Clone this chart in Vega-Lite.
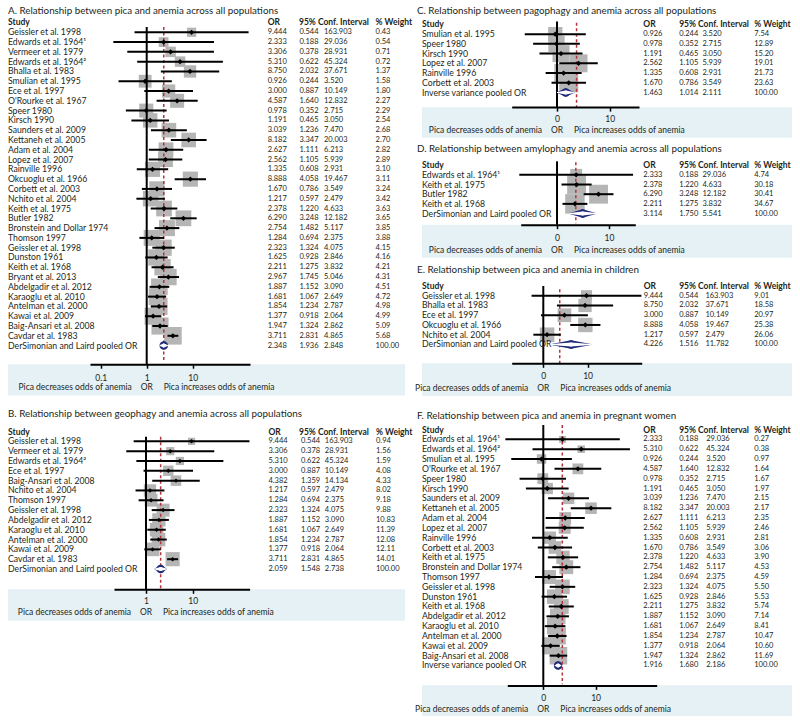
{
"$schema": "https://vega.github.io/schema/vega-lite/v6.json",
"padding": {"left": 8, "top": 3, "right": 0, "bottom": 0},
"config": {"view": {"stroke": null}},
"datasets": {
"A": [
{"i":1,"Study":"Geissler et al. 1998","OR":9.444,"lo":0.544,"hi":163.903,"w":0.43},
{"i":2,"Study":"Edwards et al. 1964¹","OR":2.333,"lo":0.188,"hi":29.036,"w":0.54},
{"i":3,"Study":"Vermeer et al. 1979","OR":3.306,"lo":0.378,"hi":28.931,"w":0.71},
{"i":4,"Study":"Edwards et al. 1964²","OR":5.310,"lo":0.622,"hi":45.324,"w":0.72},
{"i":5,"Study":"Bhalla et al. 1983","OR":8.750,"lo":2.032,"hi":37.671,"w":1.37},
{"i":6,"Study":"Smulian et al. 1995","OR":0.926,"lo":0.244,"hi":3.520,"w":1.58},
{"i":7,"Study":"Ece et al. 1997","OR":3.000,"lo":0.887,"hi":10.149,"w":1.80},
{"i":8,"Study":"O'Rourke et al. 1967","OR":4.587,"lo":1.640,"hi":12.832,"w":2.27},
{"i":9,"Study":"Speer 1980","OR":0.978,"lo":0.352,"hi":2.715,"w":2.29},
{"i":10,"Study":"Kirsch 1990","OR":1.191,"lo":0.465,"hi":3.050,"w":2.54},
{"i":11,"Study":"Saunders et al. 2009","OR":3.039,"lo":1.236,"hi":7.470,"w":2.68},
{"i":12,"Study":"Kettaneh et al. 2005","OR":8.182,"lo":3.347,"hi":20.003,"w":2.70},
{"i":13,"Study":"Adam et al. 2004","OR":2.627,"lo":1.111,"hi":6.213,"w":2.82},
{"i":14,"Study":"Lopez et al. 2007","OR":2.562,"lo":1.105,"hi":5.939,"w":2.89},
{"i":15,"Study":"Rainville 1996","OR":1.335,"lo":0.608,"hi":2.931,"w":3.10},
{"i":16,"Study":"Okcuoglu et al. 1966","OR":8.888,"lo":4.058,"hi":19.467,"w":3.11},
{"i":17,"Study":"Corbett et al. 2003","OR":1.670,"lo":0.786,"hi":3.549,"w":3.24},
{"i":18,"Study":"Nchito et al. 2004","OR":1.217,"lo":0.597,"hi":2.479,"w":3.42},
{"i":19,"Study":"Keith et al. 1975","OR":2.378,"lo":1.220,"hi":4.633,"w":3.63},
{"i":20,"Study":"Butler 1982","OR":6.290,"lo":3.248,"hi":12.182,"w":3.65},
{"i":21,"Study":"Bronstein and Dollar 1974","OR":2.754,"lo":1.482,"hi":5.117,"w":3.85},
{"i":22,"Study":"Thomson 1997","OR":1.284,"lo":0.694,"hi":2.375,"w":3.88},
{"i":23,"Study":"Geissler et al. 1998","OR":2.323,"lo":1.324,"hi":4.075,"w":4.15},
{"i":24,"Study":"Dunston 1961","OR":1.625,"lo":0.928,"hi":2.846,"w":4.16},
{"i":25,"Study":"Keith et al. 1968","OR":2.211,"lo":1.275,"hi":3.832,"w":4.21},
{"i":26,"Study":"Bryant et al. 2013","OR":2.967,"lo":1.745,"hi":5.046,"w":4.31},
{"i":27,"Study":"Abdelgadir et al. 2012","OR":1.887,"lo":1.152,"hi":3.090,"w":4.51},
{"i":28,"Study":"Karaoglu et al. 2010","OR":1.681,"lo":1.067,"hi":2.649,"w":4.72},
{"i":29,"Study":"Antelman et al. 2000","OR":1.854,"lo":1.234,"hi":2.787,"w":4.98},
{"i":30,"Study":"Kawai et al. 2009","OR":1.377,"lo":0.918,"hi":2.064,"w":4.99},
{"i":31,"Study":"Baig-Ansari et al. 2008","OR":1.947,"lo":1.324,"hi":2.862,"w":5.09},
{"i":32,"Study":"Cavdar et al. 1983","OR":3.711,"lo":2.831,"hi":4.865,"w":5.68},
{"i":33,"Study":"DerSimonian and Laird pooled OR","OR":2.348,"lo":1.936,"hi":2.848,"w":100.00}
],
"B": [
{"i":1,"Study":"Geissler et al. 1998","OR":9.444,"lo":0.544,"hi":163.903,"w":0.94},
{"i":2,"Study":"Vermeer et al. 1979","OR":3.306,"lo":0.378,"hi":28.931,"w":1.56},
{"i":3,"Study":"Edwards et al. 1964²","OR":5.310,"lo":0.622,"hi":45.324,"w":1.59},
{"i":4,"Study":"Ece et al. 1997","OR":3.000,"lo":0.887,"hi":10.149,"w":4.08},
{"i":5,"Study":"Baig-Ansari et al. 2008","OR":4.382,"lo":1.359,"hi":14.134,"w":4.33},
{"i":6,"Study":"Nchito et al. 2004","OR":1.217,"lo":0.597,"hi":2.479,"w":8.02},
{"i":7,"Study":"Thomson 1997","OR":1.284,"lo":0.694,"hi":2.375,"w":9.18},
{"i":8,"Study":"Geissler et al. 1998","OR":2.323,"lo":1.324,"hi":4.075,"w":9.88},
{"i":9,"Study":"Abdelgadir et al. 2012","OR":1.887,"lo":1.152,"hi":3.090,"w":10.83},
{"i":10,"Study":"Karaoglu et al. 2010","OR":1.681,"lo":1.067,"hi":2.649,"w":11.39},
{"i":11,"Study":"Antelman et al. 2000","OR":1.854,"lo":1.234,"hi":2.787,"w":12.08},
{"i":12,"Study":"Kawai et al. 2009","OR":1.377,"lo":0.918,"hi":2.064,"w":12.11},
{"i":13,"Study":"Cavdar et al. 1983","OR":3.711,"lo":2.831,"hi":4.865,"w":14.01},
{"i":14,"Study":"DerSimonian and Laird pooled OR","OR":2.059,"lo":1.548,"hi":2.738,"w":100.00}
],
"C": [
{"i":1,"Study":"Smulian et al. 1995","OR":0.926,"lo":0.244,"hi":3.520,"w":7.54},
{"i":2,"Study":"Speer 1980","OR":0.978,"lo":0.352,"hi":2.715,"w":12.89},
{"i":3,"Study":"Kirsch 1990","OR":1.191,"lo":0.465,"hi":3.050,"w":15.20},
{"i":4,"Study":"Lopez et al. 2007","OR":2.562,"lo":1.105,"hi":5.939,"w":19.01},
{"i":5,"Study":"Rainville 1996","OR":1.335,"lo":0.608,"hi":2.931,"w":21.73},
{"i":6,"Study":"Corbett et al. 2003","OR":1.670,"lo":0.786,"hi":3.549,"w":23.63},
{"i":7,"Study":"Inverse variance pooled OR","OR":1.463,"lo":1.014,"hi":2.111,"w":100.00}
],
"D": [
{"i":1,"Study":"Edwards et al. 1964¹","OR":2.333,"lo":0.188,"hi":29.036,"w":4.74},
{"i":2,"Study":"Keith et al. 1975","OR":2.378,"lo":1.220,"hi":4.633,"w":30.18},
{"i":3,"Study":"Butler 1982","OR":6.290,"lo":3.248,"hi":12.182,"w":30.41},
{"i":4,"Study":"Keith et al. 1968","OR":2.211,"lo":1.275,"hi":3.832,"w":34.67},
{"i":5,"Study":"DerSimonian and Laird pooled OR","OR":3.114,"lo":1.750,"hi":5.541,"w":100.00}
],
"E": [
{"i":1,"Study":"Geissler et al. 1998","OR":9.444,"lo":0.544,"hi":163.903,"w":9.01},
{"i":2,"Study":"Bhalla et al. 1983","OR":8.750,"lo":2.032,"hi":37.671,"w":18.58},
{"i":3,"Study":"Ece et al. 1997","OR":3.000,"lo":0.887,"hi":10.149,"w":20.97},
{"i":4,"Study":"Okcuoglu et al. 1966","OR":8.888,"lo":4.058,"hi":19.467,"w":25.38},
{"i":5,"Study":"Nchito et al. 2004","OR":1.217,"lo":0.597,"hi":2.479,"w":26.06},
{"i":6,"Study":"DerSimonian and Laird pooled OR","OR":4.226,"lo":1.516,"hi":11.782,"w":100.00}
],
"F": [
{"i":1,"Study":"Edwards et al. 1964¹","OR":2.333,"lo":0.188,"hi":29.036,"w":0.27},
{"i":2,"Study":"Edwards et al. 1964²","OR":5.310,"lo":0.622,"hi":45.324,"w":0.38},
{"i":3,"Study":"Smulian et al. 1995","OR":0.926,"lo":0.244,"hi":3.520,"w":0.97},
{"i":4,"Study":"O'Rourke et al. 1967","OR":4.587,"lo":1.640,"hi":12.832,"w":1.64},
{"i":5,"Study":"Speer 1980","OR":0.978,"lo":0.352,"hi":2.715,"w":1.67},
{"i":6,"Study":"Kirsch 1990","OR":1.191,"lo":0.465,"hi":3.050,"w":1.97},
{"i":7,"Study":"Saunders et al. 2009","OR":3.039,"lo":1.236,"hi":7.470,"w":2.15},
{"i":8,"Study":"Kettaneh et al. 2005","OR":8.182,"lo":3.347,"hi":20.003,"w":2.17},
{"i":9,"Study":"Adam et al. 2004","OR":2.627,"lo":1.111,"hi":6.213,"w":2.35},
{"i":10,"Study":"Lopez et al. 2007","OR":2.562,"lo":1.105,"hi":5.939,"w":2.46},
{"i":11,"Study":"Rainville 1996","OR":1.335,"lo":0.608,"hi":2.931,"w":2.81},
{"i":12,"Study":"Corbett et al. 2003","OR":1.670,"lo":0.786,"hi":3.549,"w":3.06},
{"i":13,"Study":"Keith et al. 1975","OR":2.378,"lo":1.220,"hi":4.633,"w":3.90},
{"i":14,"Study":"Bronstein and Dollar 1974","OR":2.754,"lo":1.482,"hi":5.117,"w":4.53},
{"i":15,"Study":"Thomson 1997","OR":1.284,"lo":0.694,"hi":2.375,"w":4.59},
{"i":16,"Study":"Geissler et al. 1998","OR":2.323,"lo":1.324,"hi":4.075,"w":5.50},
{"i":17,"Study":"Dunston 1961","OR":1.625,"lo":0.928,"hi":2.846,"w":5.53},
{"i":18,"Study":"Keith et al. 1968","OR":2.211,"lo":1.275,"hi":3.832,"w":5.74},
{"i":19,"Study":"Abdelgadir et al. 2012","OR":1.887,"lo":1.152,"hi":3.090,"w":7.14},
{"i":20,"Study":"Karaoglu et al. 2010","OR":1.681,"lo":1.067,"hi":2.649,"w":8.41},
{"i":21,"Study":"Antelman et al. 2000","OR":1.854,"lo":1.234,"hi":2.787,"w":10.47},
{"i":22,"Study":"Kawai et al. 2009","OR":1.377,"lo":0.918,"hi":2.064,"w":10.60},
{"i":23,"Study":"Baig-Ansari et al. 2008","OR":1.947,"lo":1.324,"hi":2.862,"w":11.69},
{"i":24,"Study":"Inverse variance pooled OR","OR":1.916,"lo":1.680,"hi":2.186,"w":100.00}
]
},
"hconcat": [
{
"width": 397, "height": 720,
"resolve": {"scale": {"x": "independent", "y": "independent", "size": "independent"}, "axis": {"x": "independent", "y": "independent"}},
"layer": [
{
"data": {"name": "A"},
"resolve": {"scale": {"x": "independent"}, "axis": {"x": "independent"}},
"layer": [
{"resolve": {"scale": {"size": "independent"}},
"layer": [
{"data": {"values": [{}]}, "mark": {"type": "rect", "color": "#e5f1f4"}, "encoding": {"y": {"datum": 34.9, "type": "quantitative", "scale": {"domain": [-1.99, 39.17], "range": [0, 403], "nice": false, "zero": false}, "axis": null}, "y2": {"datum": 38.1}}},
{"transform": [{"filter": "datum.w < 100"}], "mark": {"type": "point", "shape": "square", "filled": true, "color": "#b5b5b5", "opacity": 1}, "encoding": {"x": {"field": "OR", "type": "quantitative", "scale": {"type": "log", "domain": [0.0585, 176], "range": [82, 242], "nice": false}, "axis": {"orient": "bottom", "offset": -358.8, "values": [0.1, 1, 10], "format": "~g", "title": null, "domainColor": "#000", "domainWidth": 2, "tickColor": "#000", "tickWidth": 1.5, "tickSize": 4, "labelFontSize": 8.5, "labelFont": "Lato", "labelColor": "#231f20", "labelPadding": 5, "grid": false, "zindex": 1}}, "y": {"field": "i", "type": "quantitative", "axis": null}, "size": {"field": "w", "type": "quantitative", "scale": {"type": "sqrt", "domain": [0, 5.68], "range": [0, 310]}, "legend": null}}},
{"data": {"values": [{}]}, "mark": {"type": "rule", "color": "#000", "strokeWidth": 2}, "encoding": {"x": {"datum": 1, "type": "quantitative"}, "y": {"datum": 0.45, "type": "quantitative", "axis": null}, "y2": {"datum": 34.9}}},
{"data": {"values": [{}]}, "mark": {"type": "rule", "color": "#b5343c", "strokeWidth": 1.5, "strokeDash": [3, 2.5]}, "encoding": {"x": {"datum": 2.348, "type": "quantitative"}, "y": {"datum": 0.45, "type": "quantitative", "axis": null}, "y2": {"datum": 34.5}}},
{"transform": [{"filter": "datum.w < 100"}], "mark": {"type": "rule", "color": "#000", "strokeWidth": 2}, "encoding": {"x": {"field": "lo", "type": "quantitative"}, "x2": {"field": "hi"}, "y": {"field": "i", "type": "quantitative", "axis": null}}},
{"transform": [{"filter": "datum.w < 100"}], "mark": {"type": "point", "shape": "diamond", "filled": true, "color": "#000", "size": 28, "opacity": 1}, "encoding": {"x": {"field": "OR", "type": "quantitative"}, "y": {"field": "i", "type": "quantitative", "axis": null}}},
{"transform": [{"filter": "datum.w >= 100"}, {"fold": ["lo", "OR"], "as": ["k", "v"]}], "mark": {"type": "trail", "color": "#1f2a7a"}, "encoding": {"x": {"field": "v", "type": "quantitative"}, "y": {"field": "i", "type": "quantitative", "axis": null}, "size": {"field": "k", "type": "ordinal", "scale": {"type": "point", "domain": ["lo", "OR"], "range": [0, 8.5], "padding": 0}, "legend": null}}},
{"transform": [{"filter": "datum.w >= 100"}, {"fold": ["OR", "hi"], "as": ["k", "v"]}], "mark": {"type": "trail", "color": "#1f2a7a"}, "encoding": {"x": {"field": "v", "type": "quantitative"}, "y": {"field": "i", "type": "quantitative", "axis": null}, "size": {"field": "k", "type": "ordinal", "scale": {"type": "point", "domain": ["hi", "OR"], "range": [0, 8.5], "padding": 0}, "legend": null}}},
{"transform": [{"filter": "datum.w >= 100"}, {"fold": ["lo", "OR"], "as": ["k", "v"]}], "mark": {"type": "trail", "color": "#ffffff"}, "encoding": {"x": {"field": "v", "type": "quantitative"}, "y": {"field": "i", "type": "quantitative", "axis": null}, "size": {"field": "k", "type": "ordinal", "scale": {"type": "point", "domain": ["lo", "OR"], "range": [0, 4], "padding": 0}, "legend": null}}},
{"transform": [{"filter": "datum.w >= 100"}, {"fold": ["OR", "hi"], "as": ["k", "v"]}], "mark": {"type": "trail", "color": "#ffffff"}, "encoding": {"x": {"field": "v", "type": "quantitative"}, "y": {"field": "i", "type": "quantitative", "axis": null}, "size": {"field": "k", "type": "ordinal", "scale": {"type": "point", "domain": ["hi", "OR"], "range": [0, 4], "padding": 0}, "legend": null}}},
{"data": {"values": [{}]}, "mark": {"type": "text", "align": "center", "baseline": "middle", "fontSize": 8.5, "font": "Lato", "color": "#231f20"}, "encoding": {"x": {"datum": 1, "type": "quantitative"}, "y": {"datum": 37.2, "type": "quantitative", "axis": null}, "text": {"value": "OR"}}},
{"data": {"values": [{}]}, "mark": {"type": "text", "align": "right", "baseline": "middle", "dx": -15, "fontSize": 8.5, "font": "Lato", "color": "#231f20"}, "encoding": {"x": {"datum": 1, "type": "quantitative"}, "y": {"datum": 37.2, "type": "quantitative", "axis": null}, "text": {"value": "Pica decreases odds of anemia"}}},
{"data": {"values": [{}]}, "mark": {"type": "text", "align": "left", "baseline": "middle", "dx": 17, "fontSize": 8.5, "font": "Lato", "color": "#231f20"}, "encoding": {"x": {"datum": 1, "type": "quantitative"}, "y": {"datum": 37.2, "type": "quantitative", "axis": null}, "text": {"value": "Pica increases odds of anemia"}}}
]},
{"layer": [
{"mark": {"type": "text", "align": "left", "baseline": "middle", "fontSize": 8.7, "font": "Lato", "color": "#231f20"}, "encoding": {"x": {"datum": 0, "type": "quantitative", "scale": {"domain": [0, 100], "nice": false}, "axis": null}, "y": {"field": "i", "type": "quantitative", "axis": null}, "text": {"field": "Study", "type": "nominal"}}},
{"mark": {"type": "text", "align": "left", "baseline": "middle", "fontSize": 7.5, "font": "Lato", "color": "#231f20"}, "encoding": {"x": {"datum": 65.4, "type": "quantitative"}, "y": {"field": "i", "type": "quantitative", "axis": null}, "text": {"field": "OR", "type": "quantitative", "format": ".3f"}}},
{"mark": {"type": "text", "align": "left", "baseline": "middle", "fontSize": 7.5, "font": "Lato", "color": "#231f20"}, "encoding": {"x": {"datum": 73.4, "type": "quantitative"}, "y": {"field": "i", "type": "quantitative", "axis": null}, "text": {"field": "lo", "type": "quantitative", "format": ".3f"}}},
{"mark": {"type": "text", "align": "left", "baseline": "middle", "fontSize": 7.5, "font": "Lato", "color": "#231f20"}, "encoding": {"x": {"datum": 79.6, "type": "quantitative"}, "y": {"field": "i", "type": "quantitative", "axis": null}, "text": {"field": "hi", "type": "quantitative", "format": ".3f"}}},
{"mark": {"type": "text", "align": "left", "baseline": "middle", "fontSize": 7.5, "font": "Lato", "color": "#231f20"}, "encoding": {"x": {"datum": 92.6, "type": "quantitative"}, "y": {"field": "i", "type": "quantitative", "axis": null}, "text": {"field": "w", "type": "quantitative", "format": ".2f"}}},
{"data": {"values": [{}]}, "mark": {"type": "text", "align": "left", "baseline": "middle", "fontSize": 8.5, "fontWeight": "bold", "font": "Lato", "color": "#231f20"}, "encoding": {"x": {"datum": 0, "type": "quantitative"}, "y": {"datum": 0, "type": "quantitative", "axis": null}, "text": {"value": "Study"}}},
{"data": {"values": [{}]}, "mark": {"type": "text", "align": "left", "baseline": "middle", "fontSize": 8.5, "fontWeight": "bold", "font": "Lato", "color": "#231f20"}, "encoding": {"x": {"datum": 65.4, "type": "quantitative"}, "y": {"datum": 0, "type": "quantitative", "axis": null}, "text": {"value": "OR"}}},
{"data": {"values": [{}]}, "mark": {"type": "text", "align": "left", "baseline": "middle", "fontSize": 8.5, "fontWeight": "bold", "font": "Lato", "color": "#231f20"}, "encoding": {"x": {"datum": 73.3, "type": "quantitative"}, "y": {"datum": 0, "type": "quantitative", "axis": null}, "text": {"value": "95% Conf. Interval"}}},
{"data": {"values": [{}]}, "mark": {"type": "text", "align": "left", "baseline": "middle", "fontSize": 8.5, "fontWeight": "bold", "font": "Lato", "color": "#231f20"}, "encoding": {"x": {"datum": 92.6, "type": "quantitative"}, "y": {"datum": 0, "type": "quantitative", "axis": null}, "text": {"value": "% Weight"}}},
{"data": {"values": [{}]}, "mark": {"type": "text", "align": "left", "baseline": "middle", "fontSize": 9.8, "font": "Lato", "color": "#231f20"}, "encoding": {"x": {"datum": 0, "type": "quantitative"}, "y": {"datum": -1.17, "type": "quantitative", "axis": null}, "text": {"value": "A. Relationship between pica and anemia across all populations"}}}
]}
]
},
{
"data": {"name": "B"},
"resolve": {"scale": {"x": "independent"}, "axis": {"x": "independent"}},
"layer": [
{"resolve": {"scale": {"size": "independent"}},
"layer": [
{"data": {"values": [{}]}, "mark": {"type": "rect", "color": "#e5f1f4"}, "encoding": {"y": {"datum": 16.07, "type": "quantitative", "scale": {"domain": [-2.6, 29.68], "range": [403, 720], "nice": false, "zero": false}, "axis": null}, "y2": {"datum": 19.27}}},
{"transform": [{"filter": "datum.w < 100"}], "mark": {"type": "point", "shape": "square", "filled": true, "color": "#b5b5b5", "opacity": 1}, "encoding": {"x": {"field": "OR", "type": "quantitative", "scale": {"type": "log", "domain": [0.2065, 165], "range": [106, 241.6], "nice": false}, "axis": {"orient": "bottom", "offset": -133.7, "values": [1, 10], "format": "~g", "title": null, "domainColor": "#000", "domainWidth": 2, "tickColor": "#000", "tickWidth": 1.5, "tickSize": 4, "labelFontSize": 8.5, "labelFont": "Lato", "labelColor": "#231f20", "labelPadding": 3, "grid": false, "zindex": 1}}, "y": {"field": "i", "type": "quantitative", "axis": null}, "size": {"field": "w", "type": "quantitative", "scale": {"type": "sqrt", "domain": [0, 14.01], "range": [0, 200]}, "legend": null}}},
{"data": {"values": [{}]}, "mark": {"type": "rule", "color": "#000", "strokeWidth": 2}, "encoding": {"x": {"datum": 1, "type": "quantitative"}, "y": {"datum": 0.53, "type": "quantitative", "axis": null}, "y2": {"datum": 16.07}}},
{"data": {"values": [{}]}, "mark": {"type": "rule", "color": "#b5343c", "strokeWidth": 1.5, "strokeDash": [3, 2.5]}, "encoding": {"x": {"datum": 2.059, "type": "quantitative"}, "y": {"datum": 0.53, "type": "quantitative", "axis": null}, "y2": {"datum": 16.0}}},
{"transform": [{"filter": "datum.w < 100"}], "mark": {"type": "rule", "color": "#000", "strokeWidth": 2}, "encoding": {"x": {"field": "lo", "type": "quantitative"}, "x2": {"field": "hi"}, "y": {"field": "i", "type": "quantitative", "axis": null}}},
{"transform": [{"filter": "datum.w < 100"}], "mark": {"type": "point", "shape": "diamond", "filled": true, "color": "#000", "size": 20, "opacity": 1}, "encoding": {"x": {"field": "OR", "type": "quantitative"}, "y": {"field": "i", "type": "quantitative", "axis": null}}},
{"transform": [{"filter": "datum.w >= 100"}, {"fold": ["lo", "OR"], "as": ["k", "v"]}], "mark": {"type": "trail", "color": "#1f2a7a"}, "encoding": {"x": {"field": "v", "type": "quantitative"}, "y": {"field": "i", "type": "quantitative", "axis": null}, "size": {"field": "k", "type": "ordinal", "scale": {"type": "point", "domain": ["lo", "OR"], "range": [0, 8.5], "padding": 0}, "legend": null}}},
{"transform": [{"filter": "datum.w >= 100"}, {"fold": ["OR", "hi"], "as": ["k", "v"]}], "mark": {"type": "trail", "color": "#1f2a7a"}, "encoding": {"x": {"field": "v", "type": "quantitative"}, "y": {"field": "i", "type": "quantitative", "axis": null}, "size": {"field": "k", "type": "ordinal", "scale": {"type": "point", "domain": ["hi", "OR"], "range": [0, 8.5], "padding": 0}, "legend": null}}},
{"transform": [{"filter": "datum.w >= 100"}, {"fold": ["lo", "OR"], "as": ["k", "v"]}], "mark": {"type": "trail", "color": "#ffffff"}, "encoding": {"x": {"field": "v", "type": "quantitative"}, "y": {"field": "i", "type": "quantitative", "axis": null}, "size": {"field": "k", "type": "ordinal", "scale": {"type": "point", "domain": ["lo", "OR"], "range": [0, 4], "padding": 0}, "legend": null}}},
{"transform": [{"filter": "datum.w >= 100"}, {"fold": ["OR", "hi"], "as": ["k", "v"]}], "mark": {"type": "trail", "color": "#ffffff"}, "encoding": {"x": {"field": "v", "type": "quantitative"}, "y": {"field": "i", "type": "quantitative", "axis": null}, "size": {"field": "k", "type": "ordinal", "scale": {"type": "point", "domain": ["hi", "OR"], "range": [0, 4], "padding": 0}, "legend": null}}},
{"data": {"values": [{}]}, "mark": {"type": "text", "align": "center", "baseline": "middle", "fontSize": 8.5, "font": "Lato", "color": "#231f20"}, "encoding": {"x": {"datum": 1, "type": "quantitative"}, "y": {"datum": 18.35, "type": "quantitative", "axis": null}, "text": {"value": "OR"}}},
{"data": {"values": [{}]}, "mark": {"type": "text", "align": "right", "baseline": "middle", "dx": -15, "fontSize": 8.5, "font": "Lato", "color": "#231f20"}, "encoding": {"x": {"datum": 1, "type": "quantitative"}, "y": {"datum": 18.35, "type": "quantitative", "axis": null}, "text": {"value": "Pica decreases odds of anemia"}}},
{"data": {"values": [{}]}, "mark": {"type": "text", "align": "left", "baseline": "middle", "dx": 17, "fontSize": 8.5, "font": "Lato", "color": "#231f20"}, "encoding": {"x": {"datum": 1, "type": "quantitative"}, "y": {"datum": 18.35, "type": "quantitative", "axis": null}, "text": {"value": "Pica increases odds of anemia"}}}
]},
{"layer": [
{"mark": {"type": "text", "align": "left", "baseline": "middle", "fontSize": 8.7, "font": "Lato", "color": "#231f20"}, "encoding": {"x": {"datum": 0, "type": "quantitative", "scale": {"domain": [0, 100], "nice": false}, "axis": null}, "y": {"field": "i", "type": "quantitative", "axis": null}, "text": {"field": "Study", "type": "nominal"}}},
{"mark": {"type": "text", "align": "left", "baseline": "middle", "fontSize": 7.5, "font": "Lato", "color": "#231f20"}, "encoding": {"x": {"datum": 65.6, "type": "quantitative"}, "y": {"field": "i", "type": "quantitative", "axis": null}, "text": {"field": "OR", "type": "quantitative", "format": ".3f"}}},
{"mark": {"type": "text", "align": "left", "baseline": "middle", "fontSize": 7.5, "font": "Lato", "color": "#231f20"}, "encoding": {"x": {"datum": 73.8, "type": "quantitative"}, "y": {"field": "i", "type": "quantitative", "axis": null}, "text": {"field": "lo", "type": "quantitative", "format": ".3f"}}},
{"mark": {"type": "text", "align": "left", "baseline": "middle", "fontSize": 7.5, "font": "Lato", "color": "#231f20"}, "encoding": {"x": {"datum": 79.8, "type": "quantitative"}, "y": {"field": "i", "type": "quantitative", "axis": null}, "text": {"field": "hi", "type": "quantitative", "format": ".3f"}}},
{"mark": {"type": "text", "align": "left", "baseline": "middle", "fontSize": 7.5, "font": "Lato", "color": "#231f20"}, "encoding": {"x": {"datum": 92.7, "type": "quantitative"}, "y": {"field": "i", "type": "quantitative", "axis": null}, "text": {"field": "w", "type": "quantitative", "format": ".2f"}}},
{"data": {"values": [{}]}, "mark": {"type": "text", "align": "left", "baseline": "middle", "fontSize": 8.5, "fontWeight": "bold", "font": "Lato", "color": "#231f20"}, "encoding": {"x": {"datum": 0, "type": "quantitative"}, "y": {"datum": 0, "type": "quantitative", "axis": null}, "text": {"value": "Study"}}},
{"data": {"values": [{}]}, "mark": {"type": "text", "align": "left", "baseline": "middle", "fontSize": 8.5, "fontWeight": "bold", "font": "Lato", "color": "#231f20"}, "encoding": {"x": {"datum": 65.6, "type": "quantitative"}, "y": {"datum": 0, "type": "quantitative", "axis": null}, "text": {"value": "OR"}}},
{"data": {"values": [{}]}, "mark": {"type": "text", "align": "left", "baseline": "middle", "fontSize": 8.5, "fontWeight": "bold", "font": "Lato", "color": "#231f20"}, "encoding": {"x": {"datum": 73.3, "type": "quantitative"}, "y": {"datum": 0, "type": "quantitative", "axis": null}, "text": {"value": "95% Conf. Interval"}}},
{"data": {"values": [{}]}, "mark": {"type": "text", "align": "left", "baseline": "middle", "fontSize": 8.5, "fontWeight": "bold", "font": "Lato", "color": "#231f20"}, "encoding": {"x": {"datum": 92.7, "type": "quantitative"}, "y": {"datum": 0, "type": "quantitative", "axis": null}, "text": {"value": "% Weight"}}},
{"data": {"values": [{}]}, "mark": {"type": "text", "align": "left", "baseline": "middle", "fontSize": 9.8, "font": "Lato", "color": "#231f20"}, "encoding": {"x": {"datum": 0, "type": "quantitative"}, "y": {"datum": -1.78, "type": "quantitative", "axis": null}, "text": {"value": "B. Relationship between geophagy and anemia across all populations"}}}
]}
]
}
]
},
{
"width": 370, "height": 720,
"resolve": {"scale": {"x": "independent", "y": "independent", "size": "independent"}, "axis": {"x": "independent", "y": "independent"}},
"layer": [
{
"data": {"name": "C"},
"resolve": {"scale": {"x": "independent"}, "axis": {"x": "independent"}},
"layer": [
{"resolve": {"scale": {"size": "independent"}},
"layer": [
{"data": {"values": [{}]}, "mark": {"type": "rect", "color": "#e5f1f4"}, "encoding": {"y": {"datum": 8.5, "type": "quantitative", "scale": {"domain": [-2.2, 11.98], "range": [0, 138], "nice": false, "zero": false}, "axis": null}, "y2": {"datum": 11.65}}},
{"transform": [{"filter": "datum.w < 100"}], "mark": {"type": "point", "shape": "square", "filled": true, "color": "#b5b5b5", "opacity": 1}, "encoding": {"x": {"field": "OR", "type": "quantitative", "scale": {"type": "log", "domain": [0.138, 36], "range": [89.7, 217], "nice": false}, "axis": {"orient": "bottom", "offset": -615.9, "values": [1, 10], "labelExpr": "datum.value < 5 ? '0' : '10'", "title": null, "domainColor": "#000", "domainWidth": 2, "tickColor": "#000", "tickWidth": 1.5, "tickSize": 4, "labelFontSize": 8.5, "labelFont": "Lato", "labelColor": "#231f20", "labelPadding": 3, "grid": false, "zindex": 1}}, "y": {"field": "i", "type": "quantitative", "axis": null}, "size": {"field": "w", "type": "quantitative", "scale": {"type": "sqrt", "domain": [0, 23.63], "range": [0, 360]}, "legend": null}}},
{"data": {"values": [{}]}, "mark": {"type": "rule", "color": "#000", "strokeWidth": 2}, "encoding": {"x": {"datum": 1, "type": "quantitative"}, "y": {"datum": -0.3, "type": "quantitative", "axis": null}, "y2": {"datum": 8.5}}},
{"data": {"values": [{}]}, "mark": {"type": "rule", "color": "#b5343c", "strokeWidth": 1.5, "strokeDash": [3, 2.5]}, "encoding": {"x": {"datum": 2.35, "type": "quantitative"}, "y": {"datum": -0.16, "type": "quantitative", "axis": null}, "y2": {"datum": 8.5}}},
{"transform": [{"filter": "datum.w < 100"}], "mark": {"type": "rule", "color": "#000", "strokeWidth": 2}, "encoding": {"x": {"field": "lo", "type": "quantitative"}, "x2": {"field": "hi"}, "y": {"field": "i", "type": "quantitative", "axis": null}}},
{"transform": [{"filter": "datum.w < 100"}], "mark": {"type": "point", "shape": "diamond", "filled": true, "color": "#000", "size": 28, "opacity": 1}, "encoding": {"x": {"field": "OR", "type": "quantitative"}, "y": {"field": "i", "type": "quantitative", "axis": null}}},
{"transform": [{"filter": "datum.w >= 100"}, {"fold": ["lo", "OR"], "as": ["k", "v"]}], "mark": {"type": "trail", "color": "#1f2a7a"}, "encoding": {"x": {"field": "v", "type": "quantitative"}, "y": {"field": "i", "type": "quantitative", "axis": null}, "size": {"field": "k", "type": "ordinal", "scale": {"type": "point", "domain": ["lo", "OR"], "range": [0, 8.5], "padding": 0}, "legend": null}}},
{"transform": [{"filter": "datum.w >= 100"}, {"fold": ["OR", "hi"], "as": ["k", "v"]}], "mark": {"type": "trail", "color": "#1f2a7a"}, "encoding": {"x": {"field": "v", "type": "quantitative"}, "y": {"field": "i", "type": "quantitative", "axis": null}, "size": {"field": "k", "type": "ordinal", "scale": {"type": "point", "domain": ["hi", "OR"], "range": [0, 8.5], "padding": 0}, "legend": null}}},
{"transform": [{"filter": "datum.w >= 100"}, {"fold": ["lo", "OR"], "as": ["k", "v"]}], "mark": {"type": "trail", "color": "#ffffff"}, "encoding": {"x": {"field": "v", "type": "quantitative"}, "y": {"field": "i", "type": "quantitative", "axis": null}, "size": {"field": "k", "type": "ordinal", "scale": {"type": "point", "domain": ["lo", "OR"], "range": [0, 4], "padding": 0}, "legend": null}}},
{"transform": [{"filter": "datum.w >= 100"}, {"fold": ["OR", "hi"], "as": ["k", "v"]}], "mark": {"type": "trail", "color": "#ffffff"}, "encoding": {"x": {"field": "v", "type": "quantitative"}, "y": {"field": "i", "type": "quantitative", "axis": null}, "size": {"field": "k", "type": "ordinal", "scale": {"type": "point", "domain": ["hi", "OR"], "range": [0, 4], "padding": 0}, "legend": null}}},
{"data": {"values": [{}]}, "mark": {"type": "text", "align": "center", "baseline": "middle", "fontSize": 8.5, "font": "Lato", "color": "#231f20"}, "encoding": {"x": {"datum": 1, "type": "quantitative"}, "y": {"datum": 10.9, "type": "quantitative", "axis": null}, "text": {"value": "OR"}}},
{"data": {"values": [{}]}, "mark": {"type": "text", "align": "right", "baseline": "middle", "dx": -15, "fontSize": 8.5, "font": "Lato", "color": "#231f20"}, "encoding": {"x": {"datum": 1, "type": "quantitative"}, "y": {"datum": 10.9, "type": "quantitative", "axis": null}, "text": {"value": "Pica decreases odds of anemia"}}},
{"data": {"values": [{}]}, "mark": {"type": "text", "align": "left", "baseline": "middle", "dx": 17, "fontSize": 8.5, "font": "Lato", "color": "#231f20"}, "encoding": {"x": {"datum": 1, "type": "quantitative"}, "y": {"datum": 10.9, "type": "quantitative", "axis": null}, "text": {"value": "Pica increases odds of anemia"}}}
]},
{"layer": [
{"mark": {"type": "text", "align": "left", "baseline": "middle", "fontSize": 8.7, "font": "Lato", "color": "#231f20"}, "encoding": {"x": {"datum": 0, "type": "quantitative", "scale": {"domain": [0, 100], "nice": false}, "axis": null}, "y": {"field": "i", "type": "quantitative", "axis": null}, "text": {"field": "Study", "type": "nominal"}}},
{"mark": {"type": "text", "align": "left", "baseline": "middle", "fontSize": 7.5, "font": "Lato", "color": "#231f20"}, "encoding": {"x": {"datum": 59.8, "type": "quantitative"}, "y": {"field": "i", "type": "quantitative", "axis": null}, "text": {"field": "OR", "type": "quantitative", "format": ".3f"}}},
{"mark": {"type": "text", "align": "left", "baseline": "middle", "fontSize": 7.5, "font": "Lato", "color": "#231f20"}, "encoding": {"x": {"datum": 69.5, "type": "quantitative"}, "y": {"field": "i", "type": "quantitative", "axis": null}, "text": {"field": "lo", "type": "quantitative", "format": ".3f"}}},
{"mark": {"type": "text", "align": "left", "baseline": "middle", "fontSize": 7.5, "font": "Lato", "color": "#231f20"}, "encoding": {"x": {"datum": 75.8, "type": "quantitative"}, "y": {"field": "i", "type": "quantitative", "axis": null}, "text": {"field": "hi", "type": "quantitative", "format": ".3f"}}},
{"mark": {"type": "text", "align": "left", "baseline": "middle", "fontSize": 7.5, "font": "Lato", "color": "#231f20"}, "encoding": {"x": {"datum": 89.8, "type": "quantitative"}, "y": {"field": "i", "type": "quantitative", "axis": null}, "text": {"field": "w", "type": "quantitative", "format": ".2f"}}},
{"data": {"values": [{}]}, "mark": {"type": "text", "align": "left", "baseline": "middle", "fontSize": 8.5, "fontWeight": "bold", "font": "Lato", "color": "#231f20"}, "encoding": {"x": {"datum": 0, "type": "quantitative"}, "y": {"datum": 0, "type": "quantitative", "axis": null}, "text": {"value": "Study"}}},
{"data": {"values": [{}]}, "mark": {"type": "text", "align": "left", "baseline": "middle", "fontSize": 8.5, "fontWeight": "bold", "font": "Lato", "color": "#231f20"}, "encoding": {"x": {"datum": 59.8, "type": "quantitative"}, "y": {"datum": 0, "type": "quantitative", "axis": null}, "text": {"value": "OR"}}},
{"data": {"values": [{}]}, "mark": {"type": "text", "align": "left", "baseline": "middle", "fontSize": 8.5, "fontWeight": "bold", "font": "Lato", "color": "#231f20"}, "encoding": {"x": {"datum": 69.5, "type": "quantitative"}, "y": {"datum": 0, "type": "quantitative", "axis": null}, "text": {"value": "95% Conf. Interval"}}},
{"data": {"values": [{}]}, "mark": {"type": "text", "align": "left", "baseline": "middle", "fontSize": 8.5, "fontWeight": "bold", "font": "Lato", "color": "#231f20"}, "encoding": {"x": {"datum": 89.8, "type": "quantitative"}, "y": {"datum": 0, "type": "quantitative", "axis": null}, "text": {"value": "% Weight"}}},
{"data": {"values": [{}]}, "mark": {"type": "text", "align": "left", "baseline": "middle", "dx": -5, "fontSize": 9.8, "font": "Lato", "color": "#231f20"}, "encoding": {"x": {"datum": 0, "type": "quantitative"}, "y": {"datum": -1.4, "type": "quantitative", "axis": null}, "text": {"value": "C. Relationship between pagophagy and anemia across all populations"}}}
]}
]
},
{
"data": {"name": "D"},
"resolve": {"scale": {"x": "independent"}, "axis": {"x": "independent"}},
"layer": [
{"resolve": {"scale": {"size": "independent"}},
"layer": [
{"data": {"values": [{}]}, "mark": {"type": "rect", "color": "#e5f1f4"}, "encoding": {"y": {"datum": 6.15, "type": "quantitative", "scale": {"domain": [-2.5, 10.01], "range": [138, 259], "nice": false, "zero": false}, "axis": null}, "y2": {"datum": 9.57}}},
{"transform": [{"filter": "datum.w < 100"}], "mark": {"type": "point", "shape": "square", "filled": true, "color": "#b5b5b5", "opacity": 1}, "encoding": {"x": {"field": "OR", "type": "quantitative", "scale": {"type": "log", "domain": [0.2, 32.06], "range": [98.7, 213.3], "nice": false}, "axis": {"orient": "bottom", "offset": -498.3, "values": [1, 10], "labelExpr": "datum.value < 5 ? '0' : '10'", "title": null, "domainColor": "#000", "domainWidth": 2, "tickColor": "#000", "tickWidth": 1.5, "tickSize": 4, "labelFontSize": 8.5, "labelFont": "Lato", "labelColor": "#231f20", "labelPadding": 5, "grid": false, "zindex": 1}}, "y": {"field": "i", "type": "quantitative", "axis": null}, "size": {"field": "w", "type": "quantitative", "scale": {"type": "sqrt", "domain": [0, 34.67], "range": [0, 380]}, "legend": null}}},
{"data": {"values": [{}]}, "mark": {"type": "rule", "color": "#000", "strokeWidth": 2}, "encoding": {"x": {"datum": 1, "type": "quantitative"}, "y": {"datum": -0.4, "type": "quantitative", "axis": null}, "y2": {"datum": 6.15}}},
{"data": {"values": [{}]}, "mark": {"type": "rule", "color": "#b5343c", "strokeWidth": 1.5, "strokeDash": [3, 2.5]}, "encoding": {"x": {"datum": 2.3, "type": "quantitative"}, "y": {"datum": -0.3, "type": "quantitative", "axis": null}, "y2": {"datum": 6.0}}},
{"transform": [{"filter": "datum.w < 100"}], "mark": {"type": "rule", "color": "#000", "strokeWidth": 2}, "encoding": {"x": {"field": "lo", "type": "quantitative"}, "x2": {"field": "hi"}, "y": {"field": "i", "type": "quantitative", "axis": null}}},
{"transform": [{"filter": "datum.w < 100"}], "mark": {"type": "point", "shape": "diamond", "filled": true, "color": "#000", "size": 28, "opacity": 1}, "encoding": {"x": {"field": "OR", "type": "quantitative"}, "y": {"field": "i", "type": "quantitative", "axis": null}}},
{"transform": [{"filter": "datum.w >= 100"}, {"fold": ["lo", "OR"], "as": ["k", "v"]}], "mark": {"type": "trail", "color": "#1f2a7a"}, "encoding": {"x": {"field": "v", "type": "quantitative"}, "y": {"field": "i", "type": "quantitative", "axis": null}, "size": {"field": "k", "type": "ordinal", "scale": {"type": "point", "domain": ["lo", "OR"], "range": [0, 8.5], "padding": 0}, "legend": null}}},
{"transform": [{"filter": "datum.w >= 100"}, {"fold": ["OR", "hi"], "as": ["k", "v"]}], "mark": {"type": "trail", "color": "#1f2a7a"}, "encoding": {"x": {"field": "v", "type": "quantitative"}, "y": {"field": "i", "type": "quantitative", "axis": null}, "size": {"field": "k", "type": "ordinal", "scale": {"type": "point", "domain": ["hi", "OR"], "range": [0, 8.5], "padding": 0}, "legend": null}}},
{"transform": [{"filter": "datum.w >= 100"}, {"fold": ["lo", "OR"], "as": ["k", "v"]}], "mark": {"type": "trail", "color": "#ffffff"}, "encoding": {"x": {"field": "v", "type": "quantitative"}, "y": {"field": "i", "type": "quantitative", "axis": null}, "size": {"field": "k", "type": "ordinal", "scale": {"type": "point", "domain": ["lo", "OR"], "range": [0, 4], "padding": 0}, "legend": null}}},
{"transform": [{"filter": "datum.w >= 100"}, {"fold": ["OR", "hi"], "as": ["k", "v"]}], "mark": {"type": "trail", "color": "#ffffff"}, "encoding": {"x": {"field": "v", "type": "quantitative"}, "y": {"field": "i", "type": "quantitative", "axis": null}, "size": {"field": "k", "type": "ordinal", "scale": {"type": "point", "domain": ["hi", "OR"], "range": [0, 4], "padding": 0}, "legend": null}}},
{"data": {"values": [{}]}, "mark": {"type": "text", "align": "center", "baseline": "middle", "fontSize": 8.5, "font": "Lato", "color": "#231f20"}, "encoding": {"x": {"datum": 1, "type": "quantitative"}, "y": {"datum": 8.8, "type": "quantitative", "axis": null}, "text": {"value": "OR"}}},
{"data": {"values": [{}]}, "mark": {"type": "text", "align": "right", "baseline": "middle", "dx": -15, "fontSize": 8.5, "font": "Lato", "color": "#231f20"}, "encoding": {"x": {"datum": 1, "type": "quantitative"}, "y": {"datum": 8.8, "type": "quantitative", "axis": null}, "text": {"value": "Pica decreases odds of anemia"}}},
{"data": {"values": [{}]}, "mark": {"type": "text", "align": "left", "baseline": "middle", "dx": 17, "fontSize": 8.5, "font": "Lato", "color": "#231f20"}, "encoding": {"x": {"datum": 1, "type": "quantitative"}, "y": {"datum": 8.8, "type": "quantitative", "axis": null}, "text": {"value": "Pica increases odds of anemia"}}}
]},
{"layer": [
{"mark": {"type": "text", "align": "left", "baseline": "middle", "fontSize": 8.7, "font": "Lato", "color": "#231f20"}, "encoding": {"x": {"datum": 0, "type": "quantitative", "scale": {"domain": [0, 100], "nice": false}, "axis": null}, "y": {"field": "i", "type": "quantitative", "axis": null}, "text": {"field": "Study", "type": "nominal"}}},
{"mark": {"type": "text", "align": "left", "baseline": "middle", "fontSize": 7.5, "font": "Lato", "color": "#231f20"}, "encoding": {"x": {"datum": 59.8, "type": "quantitative"}, "y": {"field": "i", "type": "quantitative", "axis": null}, "text": {"field": "OR", "type": "quantitative", "format": ".3f"}}},
{"mark": {"type": "text", "align": "left", "baseline": "middle", "fontSize": 7.5, "font": "Lato", "color": "#231f20"}, "encoding": {"x": {"datum": 69.5, "type": "quantitative"}, "y": {"field": "i", "type": "quantitative", "axis": null}, "text": {"field": "lo", "type": "quantitative", "format": ".3f"}}},
{"mark": {"type": "text", "align": "left", "baseline": "middle", "fontSize": 7.5, "font": "Lato", "color": "#231f20"}, "encoding": {"x": {"datum": 75.8, "type": "quantitative"}, "y": {"field": "i", "type": "quantitative", "axis": null}, "text": {"field": "hi", "type": "quantitative", "format": ".3f"}}},
{"mark": {"type": "text", "align": "left", "baseline": "middle", "fontSize": 7.5, "font": "Lato", "color": "#231f20"}, "encoding": {"x": {"datum": 89.8, "type": "quantitative"}, "y": {"field": "i", "type": "quantitative", "axis": null}, "text": {"field": "w", "type": "quantitative", "format": ".2f"}}},
{"data": {"values": [{}]}, "mark": {"type": "text", "align": "left", "baseline": "middle", "fontSize": 8.5, "fontWeight": "bold", "font": "Lato", "color": "#231f20"}, "encoding": {"x": {"datum": 0, "type": "quantitative"}, "y": {"datum": 0, "type": "quantitative", "axis": null}, "text": {"value": "Study"}}},
{"data": {"values": [{}]}, "mark": {"type": "text", "align": "left", "baseline": "middle", "fontSize": 8.5, "fontWeight": "bold", "font": "Lato", "color": "#231f20"}, "encoding": {"x": {"datum": 59.8, "type": "quantitative"}, "y": {"datum": 0, "type": "quantitative", "axis": null}, "text": {"value": "OR"}}},
{"data": {"values": [{}]}, "mark": {"type": "text", "align": "left", "baseline": "middle", "fontSize": 8.5, "fontWeight": "bold", "font": "Lato", "color": "#231f20"}, "encoding": {"x": {"datum": 69.5, "type": "quantitative"}, "y": {"datum": 0, "type": "quantitative", "axis": null}, "text": {"value": "95% Conf. Interval"}}},
{"data": {"values": [{}]}, "mark": {"type": "text", "align": "left", "baseline": "middle", "fontSize": 8.5, "fontWeight": "bold", "font": "Lato", "color": "#231f20"}, "encoding": {"x": {"datum": 89.8, "type": "quantitative"}, "y": {"datum": 0, "type": "quantitative", "axis": null}, "text": {"value": "% Weight"}}},
{"data": {"values": [{}]}, "mark": {"type": "text", "align": "left", "baseline": "middle", "dx": -5, "fontSize": 9.8, "font": "Lato", "color": "#231f20"}, "encoding": {"x": {"datum": 0, "type": "quantitative"}, "y": {"datum": -1.67, "type": "quantitative", "axis": null}, "text": {"value": "D. Relationship between amylophagy and anemia across all populations"}}}
]}
]
},
{
"data": {"name": "E"},
"resolve": {"scale": {"x": "independent"}, "axis": {"x": "independent"}},
"layer": [
{"resolve": {"scale": {"size": "independent"}},
"layer": [
{"data": {"values": [{}]}, "mark": {"type": "rect", "color": "#e5f1f4"}, "encoding": {"y": {"datum": 7.93, "type": "quantitative", "scale": {"domain": [-2.46, 12.52], "range": [259, 405], "nice": false, "zero": false}, "axis": null}, "y2": {"datum": 11.3}}},
{"transform": [{"filter": "datum.w < 100"}], "mark": {"type": "point", "shape": "square", "filled": true, "color": "#b5b5b5", "opacity": 1}, "encoding": {"x": {"field": "OR", "type": "quantitative", "scale": {"type": "log", "domain": [0.1935, 166.4], "range": [89.7, 219.7], "nice": false}, "axis": {"orient": "bottom", "offset": -359.7, "values": [1, 10], "labelExpr": "datum.value < 5 ? '0' : '10'", "title": null, "domainColor": "#000", "domainWidth": 2, "tickColor": "#000", "tickWidth": 1.5, "tickSize": 4, "labelFontSize": 8.5, "labelFont": "Lato", "labelColor": "#231f20", "labelPadding": 4, "grid": false, "zindex": 1}}, "y": {"field": "i", "type": "quantitative", "axis": null}, "size": {"field": "w", "type": "quantitative", "scale": {"type": "sqrt", "domain": [0, 26.06], "range": [0, 210]}, "legend": null}}},
{"data": {"values": [{}]}, "mark": {"type": "rule", "color": "#000", "strokeWidth": 2}, "encoding": {"x": {"datum": 1, "type": "quantitative"}, "y": {"datum": 0, "type": "quantitative", "axis": null}, "y2": {"datum": 7.93}}},
{"data": {"values": [{}]}, "mark": {"type": "rule", "color": "#b5343c", "strokeWidth": 1.5, "strokeDash": [3, 2.5]}, "encoding": {"x": {"datum": 2.35, "type": "quantitative"}, "y": {"datum": 0.34, "type": "quantitative", "axis": null}, "y2": {"datum": 7.9}}},
{"transform": [{"filter": "datum.w < 100"}], "mark": {"type": "rule", "color": "#000", "strokeWidth": 2}, "encoding": {"x": {"field": "lo", "type": "quantitative"}, "x2": {"field": "hi"}, "y": {"field": "i", "type": "quantitative", "axis": null}}},
{"transform": [{"filter": "datum.w < 100"}], "mark": {"type": "point", "shape": "diamond", "filled": true, "color": "#000", "size": 28, "opacity": 1}, "encoding": {"x": {"field": "OR", "type": "quantitative"}, "y": {"field": "i", "type": "quantitative", "axis": null}}},
{"transform": [{"filter": "datum.w >= 100"}, {"fold": ["lo", "OR"], "as": ["k", "v"]}], "mark": {"type": "trail", "color": "#1f2a7a"}, "encoding": {"x": {"field": "v", "type": "quantitative"}, "y": {"field": "i", "type": "quantitative", "axis": null}, "size": {"field": "k", "type": "ordinal", "scale": {"type": "point", "domain": ["lo", "OR"], "range": [0, 8.5], "padding": 0}, "legend": null}}},
{"transform": [{"filter": "datum.w >= 100"}, {"fold": ["OR", "hi"], "as": ["k", "v"]}], "mark": {"type": "trail", "color": "#1f2a7a"}, "encoding": {"x": {"field": "v", "type": "quantitative"}, "y": {"field": "i", "type": "quantitative", "axis": null}, "size": {"field": "k", "type": "ordinal", "scale": {"type": "point", "domain": ["hi", "OR"], "range": [0, 8.5], "padding": 0}, "legend": null}}},
{"transform": [{"filter": "datum.w >= 100"}, {"fold": ["lo", "OR"], "as": ["k", "v"]}], "mark": {"type": "trail", "color": "#ffffff"}, "encoding": {"x": {"field": "v", "type": "quantitative"}, "y": {"field": "i", "type": "quantitative", "axis": null}, "size": {"field": "k", "type": "ordinal", "scale": {"type": "point", "domain": ["lo", "OR"], "range": [0, 4], "padding": 0}, "legend": null}}},
{"transform": [{"filter": "datum.w >= 100"}, {"fold": ["OR", "hi"], "as": ["k", "v"]}], "mark": {"type": "trail", "color": "#ffffff"}, "encoding": {"x": {"field": "v", "type": "quantitative"}, "y": {"field": "i", "type": "quantitative", "axis": null}, "size": {"field": "k", "type": "ordinal", "scale": {"type": "point", "domain": ["hi", "OR"], "range": [0, 4], "padding": 0}, "legend": null}}},
{"data": {"values": [{}]}, "mark": {"type": "text", "align": "center", "baseline": "middle", "fontSize": 8.5, "font": "Lato", "color": "#231f20"}, "encoding": {"x": {"datum": 1, "type": "quantitative"}, "y": {"datum": 10.5, "type": "quantitative", "axis": null}, "text": {"value": "OR"}}},
{"data": {"values": [{}]}, "mark": {"type": "text", "align": "right", "baseline": "middle", "dx": -15, "fontSize": 8.5, "font": "Lato", "color": "#231f20"}, "encoding": {"x": {"datum": 1, "type": "quantitative"}, "y": {"datum": 10.5, "type": "quantitative", "axis": null}, "text": {"value": "Pica decreases odds of anemia"}}},
{"data": {"values": [{}]}, "mark": {"type": "text", "align": "left", "baseline": "middle", "dx": 17, "fontSize": 8.5, "font": "Lato", "color": "#231f20"}, "encoding": {"x": {"datum": 1, "type": "quantitative"}, "y": {"datum": 10.5, "type": "quantitative", "axis": null}, "text": {"value": "Pica increases odds of anemia"}}}
]},
{"layer": [
{"mark": {"type": "text", "align": "left", "baseline": "middle", "fontSize": 8.7, "font": "Lato", "color": "#231f20"}, "encoding": {"x": {"datum": 0, "type": "quantitative", "scale": {"domain": [0, 100], "nice": false}, "axis": null}, "y": {"field": "i", "type": "quantitative", "axis": null}, "text": {"field": "Study", "type": "nominal"}}},
{"mark": {"type": "text", "align": "left", "baseline": "middle", "fontSize": 7.5, "font": "Lato", "color": "#231f20"}, "encoding": {"x": {"datum": 59.9, "type": "quantitative"}, "y": {"field": "i", "type": "quantitative", "axis": null}, "text": {"field": "OR", "type": "quantitative", "format": ".3f"}}},
{"mark": {"type": "text", "align": "left", "baseline": "middle", "fontSize": 7.5, "font": "Lato", "color": "#231f20"}, "encoding": {"x": {"datum": 69.5, "type": "quantitative"}, "y": {"field": "i", "type": "quantitative", "axis": null}, "text": {"field": "lo", "type": "quantitative", "format": ".3f"}}},
{"mark": {"type": "text", "align": "left", "baseline": "middle", "fontSize": 7.5, "font": "Lato", "color": "#231f20"}, "encoding": {"x": {"datum": 76.6, "type": "quantitative"}, "y": {"field": "i", "type": "quantitative", "axis": null}, "text": {"field": "hi", "type": "quantitative", "format": ".3f"}}},
{"mark": {"type": "text", "align": "left", "baseline": "middle", "fontSize": 7.5, "font": "Lato", "color": "#231f20"}, "encoding": {"x": {"datum": 89.8, "type": "quantitative"}, "y": {"field": "i", "type": "quantitative", "axis": null}, "text": {"field": "w", "type": "quantitative", "format": ".2f"}}},
{"data": {"values": [{}]}, "mark": {"type": "text", "align": "left", "baseline": "middle", "fontSize": 8.5, "fontWeight": "bold", "font": "Lato", "color": "#231f20"}, "encoding": {"x": {"datum": 0, "type": "quantitative"}, "y": {"datum": 0, "type": "quantitative", "axis": null}, "text": {"value": "Study"}}},
{"data": {"values": [{}]}, "mark": {"type": "text", "align": "left", "baseline": "middle", "fontSize": 8.5, "fontWeight": "bold", "font": "Lato", "color": "#231f20"}, "encoding": {"x": {"datum": 59.9, "type": "quantitative"}, "y": {"datum": 0, "type": "quantitative", "axis": null}, "text": {"value": "OR"}}},
{"data": {"values": [{}]}, "mark": {"type": "text", "align": "left", "baseline": "middle", "fontSize": 8.5, "fontWeight": "bold", "font": "Lato", "color": "#231f20"}, "encoding": {"x": {"datum": 69.5, "type": "quantitative"}, "y": {"datum": 0, "type": "quantitative", "axis": null}, "text": {"value": "95% Conf. Interval"}}},
{"data": {"values": [{}]}, "mark": {"type": "text", "align": "left", "baseline": "middle", "fontSize": 8.5, "fontWeight": "bold", "font": "Lato", "color": "#231f20"}, "encoding": {"x": {"datum": 89.8, "type": "quantitative"}, "y": {"datum": 0, "type": "quantitative", "axis": null}, "text": {"value": "% Weight"}}},
{"data": {"values": [{}]}, "mark": {"type": "text", "align": "left", "baseline": "middle", "dx": -5, "fontSize": 9.8, "font": "Lato", "color": "#231f20"}, "encoding": {"x": {"datum": 0, "type": "quantitative"}, "y": {"datum": -1.64, "type": "quantitative", "axis": null}, "text": {"value": "E. Relationship between pica and anemia in children"}}}
]}
]
},
{
"data": {"name": "F"},
"resolve": {"scale": {"x": "independent"}, "axis": {"x": "independent"}},
"layer": [
{"resolve": {"scale": {"size": "independent"}},
"layer": [
{"data": {"values": [{}]}, "mark": {"type": "rect", "color": "#e5f1f4"}, "encoding": {"y": {"datum": 26.02, "type": "quantitative", "scale": {"domain": [-2.19, 29.85], "range": [405, 720], "nice": false, "zero": false}, "axis": null}, "y2": {"datum": 29.15}}},
{"transform": [{"filter": "datum.w < 100"}], "mark": {"type": "point", "shape": "square", "filled": true, "color": "#b5b5b5", "opacity": 1}, "encoding": {"x": {"field": "OR", "type": "quantitative", "scale": {"type": "log", "domain": [0.205, 147.3], "range": [85.3, 234.7], "nice": false}, "axis": {"orient": "bottom", "offset": -37.6, "values": [1, 10], "labelExpr": "datum.value < 5 ? '0' : '10'", "title": null, "domainColor": "#000", "domainWidth": 2, "tickColor": "#000", "tickWidth": 1.5, "tickSize": 4, "labelFontSize": 8.5, "labelFont": "Lato", "labelColor": "#231f20", "labelPadding": 4, "grid": false, "zindex": 1}}, "y": {"field": "i", "type": "quantitative", "axis": null}, "size": {"field": "w", "type": "quantitative", "scale": {"type": "sqrt", "domain": [0, 11.69], "range": [0, 310]}, "legend": null}}},
{"data": {"values": [{}]}, "mark": {"type": "rule", "color": "#000", "strokeWidth": 2}, "encoding": {"x": {"datum": 1, "type": "quantitative"}, "y": {"datum": -0.46, "type": "quantitative", "axis": null}, "y2": {"datum": 26.02}}},
{"data": {"values": [{}]}, "mark": {"type": "rule", "color": "#b5343c", "strokeWidth": 1.5, "strokeDash": [3, 2.5]}, "encoding": {"x": {"datum": 2.31, "type": "quantitative"}, "y": {"datum": -0.46, "type": "quantitative", "axis": null}, "y2": {"datum": 25.9}}},
{"transform": [{"filter": "datum.w < 100"}], "mark": {"type": "rule", "color": "#000", "strokeWidth": 2}, "encoding": {"x": {"field": "lo", "type": "quantitative"}, "x2": {"field": "hi"}, "y": {"field": "i", "type": "quantitative", "axis": null}}},
{"transform": [{"filter": "datum.w < 100"}], "mark": {"type": "point", "shape": "diamond", "filled": true, "color": "#000", "size": 28, "opacity": 1}, "encoding": {"x": {"field": "OR", "type": "quantitative"}, "y": {"field": "i", "type": "quantitative", "axis": null}}},
{"transform": [{"filter": "datum.w >= 100"}, {"fold": ["lo", "OR"], "as": ["k", "v"]}], "mark": {"type": "trail", "color": "#1f2a7a"}, "encoding": {"x": {"field": "v", "type": "quantitative"}, "y": {"field": "i", "type": "quantitative", "axis": null}, "size": {"field": "k", "type": "ordinal", "scale": {"type": "point", "domain": ["lo", "OR"], "range": [0, 8.5], "padding": 0}, "legend": null}}},
{"transform": [{"filter": "datum.w >= 100"}, {"fold": ["OR", "hi"], "as": ["k", "v"]}], "mark": {"type": "trail", "color": "#1f2a7a"}, "encoding": {"x": {"field": "v", "type": "quantitative"}, "y": {"field": "i", "type": "quantitative", "axis": null}, "size": {"field": "k", "type": "ordinal", "scale": {"type": "point", "domain": ["hi", "OR"], "range": [0, 8.5], "padding": 0}, "legend": null}}},
{"transform": [{"filter": "datum.w >= 100"}, {"fold": ["lo", "OR"], "as": ["k", "v"]}], "mark": {"type": "trail", "color": "#ffffff"}, "encoding": {"x": {"field": "v", "type": "quantitative"}, "y": {"field": "i", "type": "quantitative", "axis": null}, "size": {"field": "k", "type": "ordinal", "scale": {"type": "point", "domain": ["lo", "OR"], "range": [0, 4], "padding": 0}, "legend": null}}},
{"transform": [{"filter": "datum.w >= 100"}, {"fold": ["OR", "hi"], "as": ["k", "v"]}], "mark": {"type": "trail", "color": "#ffffff"}, "encoding": {"x": {"field": "v", "type": "quantitative"}, "y": {"field": "i", "type": "quantitative", "axis": null}, "size": {"field": "k", "type": "ordinal", "scale": {"type": "point", "domain": ["hi", "OR"], "range": [0, 4], "padding": 0}, "legend": null}}},
{"data": {"values": [{}]}, "mark": {"type": "text", "align": "center", "baseline": "middle", "fontSize": 8.5, "font": "Lato", "color": "#231f20"}, "encoding": {"x": {"datum": 1, "type": "quantitative"}, "y": {"datum": 28.4, "type": "quantitative", "axis": null}, "text": {"value": "OR"}}},
{"data": {"values": [{}]}, "mark": {"type": "text", "align": "right", "baseline": "middle", "dx": -15, "fontSize": 8.5, "font": "Lato", "color": "#231f20"}, "encoding": {"x": {"datum": 1, "type": "quantitative"}, "y": {"datum": 28.4, "type": "quantitative", "axis": null}, "text": {"value": "Pica decreases odds of anemia"}}},
{"data": {"values": [{}]}, "mark": {"type": "text", "align": "left", "baseline": "middle", "dx": 17, "fontSize": 8.5, "font": "Lato", "color": "#231f20"}, "encoding": {"x": {"datum": 1, "type": "quantitative"}, "y": {"datum": 28.4, "type": "quantitative", "axis": null}, "text": {"value": "Pica increases odds of anemia"}}}
]},
{"layer": [
{"mark": {"type": "text", "align": "left", "baseline": "middle", "fontSize": 8.7, "font": "Lato", "color": "#231f20"}, "encoding": {"x": {"datum": 0, "type": "quantitative", "scale": {"domain": [0, 100], "nice": false}, "axis": null}, "y": {"field": "i", "type": "quantitative", "axis": null}, "text": {"field": "Study", "type": "nominal"}}},
{"mark": {"type": "text", "align": "left", "baseline": "middle", "fontSize": 7.5, "font": "Lato", "color": "#231f20"}, "encoding": {"x": {"datum": 59.8, "type": "quantitative"}, "y": {"field": "i", "type": "quantitative", "axis": null}, "text": {"field": "OR", "type": "quantitative", "format": ".3f"}}},
{"mark": {"type": "text", "align": "left", "baseline": "middle", "fontSize": 7.5, "font": "Lato", "color": "#231f20"}, "encoding": {"x": {"datum": 69.5, "type": "quantitative"}, "y": {"field": "i", "type": "quantitative", "axis": null}, "text": {"field": "lo", "type": "quantitative", "format": ".3f"}}},
{"mark": {"type": "text", "align": "left", "baseline": "middle", "fontSize": 7.5, "font": "Lato", "color": "#231f20"}, "encoding": {"x": {"datum": 76.8, "type": "quantitative"}, "y": {"field": "i", "type": "quantitative", "axis": null}, "text": {"field": "hi", "type": "quantitative", "format": ".3f"}}},
{"mark": {"type": "text", "align": "left", "baseline": "middle", "fontSize": 7.5, "font": "Lato", "color": "#231f20"}, "encoding": {"x": {"datum": 89.8, "type": "quantitative"}, "y": {"field": "i", "type": "quantitative", "axis": null}, "text": {"field": "w", "type": "quantitative", "format": ".2f"}}},
{"data": {"values": [{}]}, "mark": {"type": "text", "align": "left", "baseline": "middle", "fontSize": 8.5, "fontWeight": "bold", "font": "Lato", "color": "#231f20"}, "encoding": {"x": {"datum": 0, "type": "quantitative"}, "y": {"datum": 0, "type": "quantitative", "axis": null}, "text": {"value": "Study"}}},
{"data": {"values": [{}]}, "mark": {"type": "text", "align": "left", "baseline": "middle", "fontSize": 8.5, "fontWeight": "bold", "font": "Lato", "color": "#231f20"}, "encoding": {"x": {"datum": 59.8, "type": "quantitative"}, "y": {"datum": 0, "type": "quantitative", "axis": null}, "text": {"value": "OR"}}},
{"data": {"values": [{}]}, "mark": {"type": "text", "align": "left", "baseline": "middle", "fontSize": 8.5, "fontWeight": "bold", "font": "Lato", "color": "#231f20"}, "encoding": {"x": {"datum": 69.5, "type": "quantitative"}, "y": {"datum": 0, "type": "quantitative", "axis": null}, "text": {"value": "95% Conf. Interval"}}},
{"data": {"values": [{}]}, "mark": {"type": "text", "align": "left", "baseline": "middle", "fontSize": 8.5, "fontWeight": "bold", "font": "Lato", "color": "#231f20"}, "encoding": {"x": {"datum": 89.8, "type": "quantitative"}, "y": {"datum": 0, "type": "quantitative", "axis": null}, "text": {"value": "% Weight"}}},
{"data": {"values": [{}]}, "mark": {"type": "text", "align": "left", "baseline": "middle", "dx": -5, "fontSize": 9.8, "font": "Lato", "color": "#231f20"}, "encoding": {"x": {"datum": 0, "type": "quantitative"}, "y": {"datum": -1.37, "type": "quantitative", "axis": null}, "text": {"value": "F. Relationship between pica and anemia in pregnant women"}}}
]}
]
}
]
}
],
"spacing": 17, "bounds": "flush"
}
